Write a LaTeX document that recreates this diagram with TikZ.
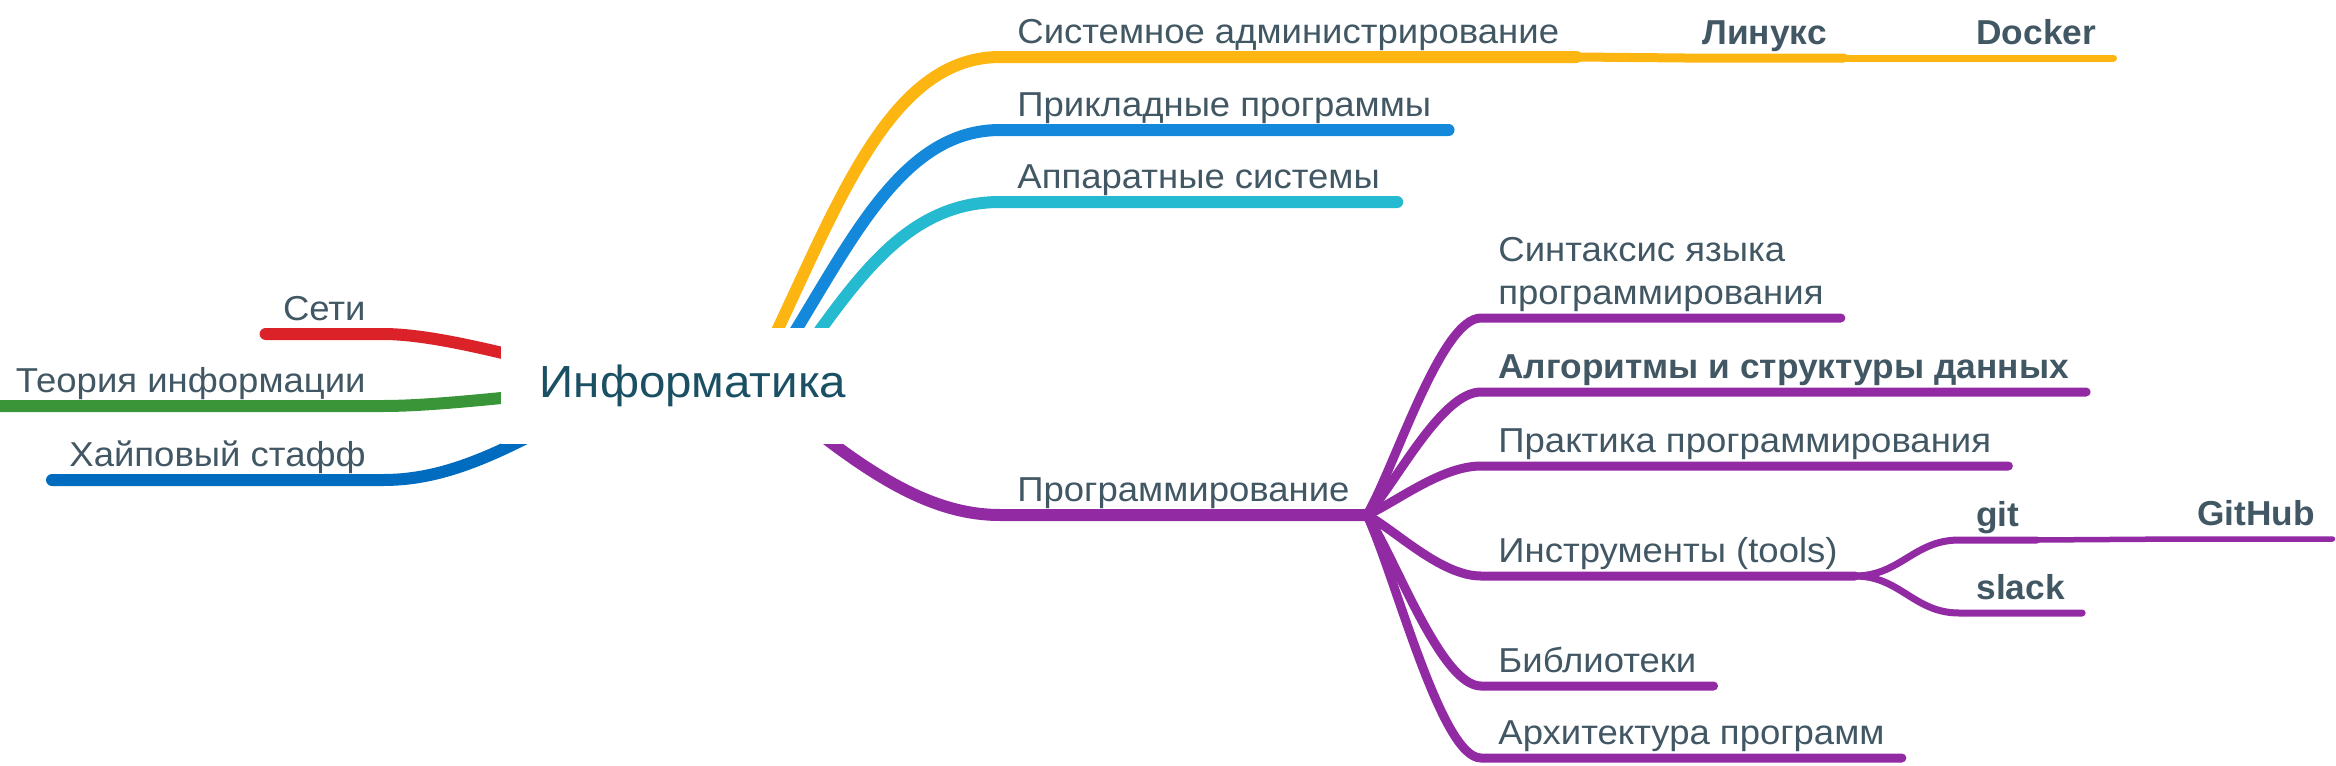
\documentclass[tikz,border=0pt]{standalone}
\usepackage{fontspec}
\setmainfont{Liberation Sans}[FakeStretch=1.055]
\newfontfamily\topicbf{Liberation Sans}[FakeStretch=1.02]
\usetikzlibrary{backgrounds,calc}
\definecolor{textgray}{RGB}{66,87,100}
\definecolor{rootteal}{RGB}{27,80,100}
\definecolor{cyellow}{RGB}{253,181,17}
\definecolor{cblue}{RGB}{20,136,218}
\definecolor{ccyan}{RGB}{38,186,209}
\definecolor{cred}{RGB}{220,34,41}
\definecolor{cgreen}{RGB}{58,148,56}
\definecolor{cnavy}{RGB}{0,108,192}
\definecolor{cpurple}{RGB}{146,42,164}
\tikzset{
  topic/.style={text=textgray, font=\fontsize{17.3}{21.5}\selectfont, inner xsep=8.5pt, inner ysep=6.5pt, text depth=0pt, align=left},
  boldtopic/.style={topic, font=\fontsize{17.3}{21.5}\selectfont\topicbf\bfseries},
  lvlone/.style={line width=6pt, line cap=round, draw=#1},
  lvltwo/.style={line width=4.5pt, line cap=round, draw=#1},
  lvlthree/.style={line width=3.5pt, line cap=round, draw=#1},
  lvlfour/.style={line width=2.75pt, line cap=round, draw=#1},
}
\begin{document}
\begin{tikzpicture}[x=0.5pt, y=-0.5pt]
  \useasboundingbox (0,0) rectangle (2336,766);
  % central topic
  \node[fill=white, minimum width=192pt, minimum height=58pt, text=rootteal, font=\fontsize{22.5}{28}\selectfont] (root) at (693,386) {Информатика};
  % right side
  \node[topic, anchor=south west] (sysadm) at (1000,57) {Системное администрирование};
  \node[topic, anchor=south west] (apps) at (1000,130) {Прикладные программы};
  \node[topic, anchor=south west] (hardware) at (1000,202) {Аппаратные системы};
  \node[topic, anchor=south west] (prog) at (1000,515) {Программирование};
  % left side
  \node[topic, anchor=south east] (nets) at (383,334) {Сети};
  \node[topic, anchor=south east] (infotheory) at (383,406) {Теория информации};
  \node[topic, anchor=south east] (hype) at (383,480) {Хайповый стафф};
  % deeper levels
  \node[boldtopic, anchor=south west] (linux) at (1685,58) {Линукс};
  \node[boldtopic, anchor=south west] (docker) at (1959,58) {Docker};
  \node[topic, anchor=south west] (syntax) at (1481,318) {Синтаксис языка\\программирования};
  \node[boldtopic, anchor=south west] (algo) at (1481,392) {Алгоритмы и структуры данных};
  \node[topic, anchor=south west] (practice) at (1481,466) {Практика программирования};
  \node[topic, anchor=south west] (tools) at (1481,576) {Инструменты (tools)};
  \node[topic, anchor=south west] (libs) at (1481,686) {Библиотеки};
  \node[topic, anchor=south west] (arch) at (1481,758) {Архитектура программ};
  \node[boldtopic, anchor=south west] (git) at (1959,540) {git};
  \node[boldtopic, anchor=south west] (slack) at (1959,613) {slack};
  \node[boldtopic, anchor=south west] (github) at (2180,539) {GitHub};
  \begin{scope}[on background layer]
    \draw[lvlone=cyellow] ($(root)+(57,0)$) .. controls (830,230) and (880,57) .. (sysadm.south west) -- (sysadm.south east);
    \draw[lvlone=cblue] ($(root)+(67,0)$) .. controls (840,270) and (890,130) .. (apps.south west) -- (apps.south east);
    \draw[lvlone=ccyan] ($(root)+(87,0)$) .. controls (850,290) and (900,202) .. (hardware.south west) -- (hardware.south east);
    \draw[lvlone=cpurple] ($(root)+(67,0)$) .. controls (850,460) and (920,515) .. (prog.south west) -- (prog.south east);
    \draw[lvlone=cred] ($(root)+(-53,0)$) .. controls (560,370) and (450,334) .. (nets.south east) -- (nets.south west);
    \draw[lvlone=cgreen] ($(root)+(-53,0)$) .. controls (560,390) and (450,406) .. (infotheory.south east) -- (infotheory.south west);
    \draw[lvlone=cnavy] ($(root)+(-73,0)$) .. controls (510,450) and (450,480) .. (hype.south east) -- (hype.south west);
    \draw[lvltwo=cyellow] (sysadm.south east) -- (linux.south west) -- (linux.south east);
    \draw[lvlthree=cyellow] (linux.south east) -- (docker.south west) -- (docker.south east);
    \foreach \n in {syntax, algo, practice, tools, libs, arch}
      {\draw[lvltwo=cpurple] (prog.south east) .. controls ($(prog.south east)!0.25!(\n.south west)$) and ($(\n.south west)+(-40,0)$) .. (\n.south west) -- (\n.south east);};
    \draw[lvlthree=cpurple] (tools.south east) .. controls ($(tools.south east)+(45,0)$) and ($(git.south west)+(-45,0)$) .. (git.south west) -- (git.south east);
    \draw[lvlthree=cpurple] (tools.south east) .. controls ($(tools.south east)+(45,0)$) and ($(slack.south west)+(-45,0)$) .. (slack.south west) -- (slack.south east);
    \draw[lvlfour=cpurple] (git.south east) -- (github.south west) -- (github.south east);
  \end{scope}
\end{tikzpicture}
\end{document}
